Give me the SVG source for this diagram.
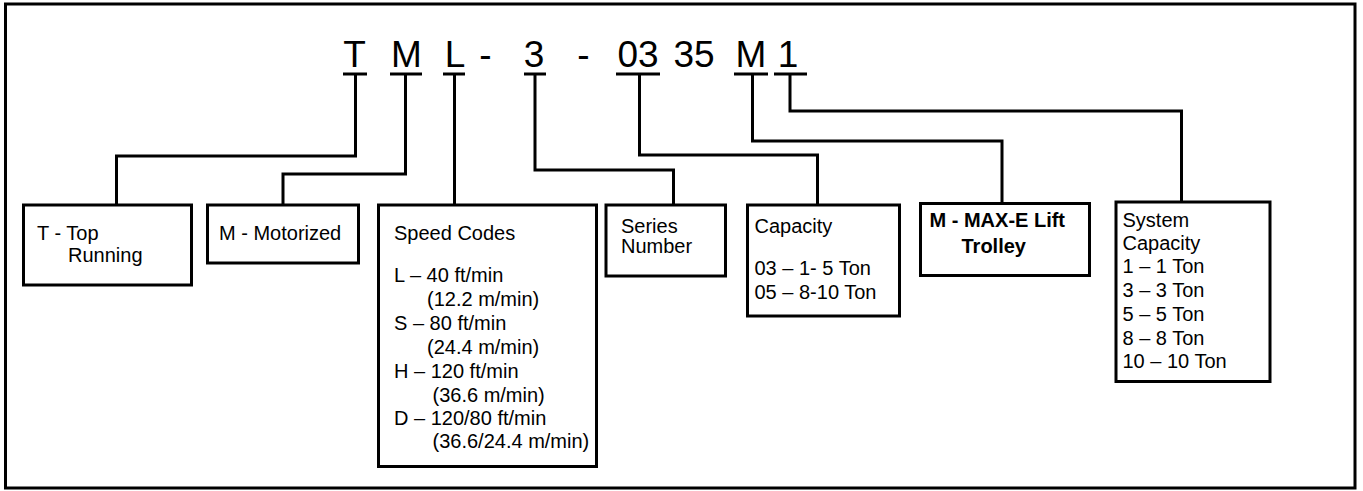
<svg xmlns="http://www.w3.org/2000/svg" width="1363" height="491" viewBox="0 0 1363 491">
<style>
text{font-family:"Liberation Sans",Arial,sans-serif;fill:#000}
.code{font-size:37px;text-anchor:middle}
.t{font-size:20px}
.b{font-size:20px;font-weight:bold}
.box{fill:#fff;stroke:#000;stroke-width:3}
.ln{fill:none;stroke:#000;stroke-width:3;stroke-linejoin:miter}
.ul{stroke:#000;stroke-width:3}
</style>
<rect x="5.5" y="4" width="1349.5" height="484" fill="#fff" stroke="#000" stroke-width="3"/>
<g id="code">
<text class="code" x="354.5" y="67">T</text>
<text class="code" x="406.5" y="67">M</text>
<text class="code" x="455" y="67">L</text>
<text class="code" x="485.5" y="67">-</text>
<text class="code" x="534" y="67">3</text>
<text class="code" x="583.5" y="67">-</text>
<text class="code" x="638" y="67">03</text>
<text class="code" x="694" y="67">35</text>
<text class="code" x="751" y="67">M</text>
<text class="code" x="788" y="67">1</text>
<line class="ul" x1="343" y1="74" x2="367" y2="74"/>
<line class="ul" x1="390" y1="74" x2="422" y2="74"/>
<line class="ul" x1="443" y1="74" x2="465" y2="74"/>
<line class="ul" x1="524" y1="74" x2="546" y2="74"/>
<line class="ul" x1="616" y1="74" x2="660" y2="74"/>
<line class="ul" x1="734" y1="74" x2="768" y2="74"/>
<line class="ul" x1="774" y1="74" x2="807" y2="74"/>
</g>
<g id="connectors">
<polyline class="ln" points="355.5,74 355.5,156 116.5,156 116.5,205"/>
<polyline class="ln" points="405.5,74 405.5,174 283,174 283,205"/>
<polyline class="ln" points="454.5,74 454.5,205"/>
<polyline class="ln" points="535,74 535,170 673.5,170 673.5,205"/>
<polyline class="ln" points="639.5,74 639.5,155 817.5,155 817.5,205"/>
<polyline class="ln" points="752.5,74 752.5,141 1002,141 1002,203"/>
<polyline class="ln" points="790,74 790,111 1181.5,111 1181.5,202"/>
</g>
<g id="node-T">
<rect class="box" x="23.5" y="205" width="168" height="80"/>
<text class="t" x="37" y="239.5">T - Top</text>
<text class="t" x="68" y="261.7">Running</text>
</g>
<g id="node-M">
<rect class="box" x="207.5" y="205" width="151" height="58"/>
<text class="t" x="219" y="239.5">M - Motorized</text>
</g>
<g id="node-speed">
<rect class="box" x="378.5" y="205" width="218" height="261.5"/>
<text class="t" x="394" y="239.5">Speed Codes</text>
<text class="t" x="394" y="281.7">L – 40 ft/min</text>
<text class="t" x="427" y="306">(12.2 m/min)</text>
<text class="t" x="394" y="330">S – 80 ft/min</text>
<text class="t" x="427" y="353.5">(24.4 m/min)</text>
<text class="t" x="394" y="378">H – 120 ft/min</text>
<text class="t" x="432.5" y="401.7">(36.6 m/min)</text>
<text class="t" x="394" y="425">D – 120/80 ft/min</text>
<text class="t" x="432.5" y="448.3">(36.6/24.4 m/min)</text>
</g>
<g id="node-series">
<rect class="box" x="606" y="205" width="119.5" height="71"/>
<text class="t" x="621" y="232.7">Series</text>
<text class="t" x="621" y="252.7">Number</text>
</g>
<g id="node-capacity">
<rect class="box" x="747.5" y="205" width="152" height="111"/>
<text class="t" x="754.5" y="233.3">Capacity</text>
<text class="t" x="754.5" y="275">03 – 1- 5 Ton</text>
<text class="t" x="754.5" y="299.3">05 – 8-10 Ton</text>
</g>
<g id="node-maxe">
<rect class="box" x="920.5" y="203.5" width="169" height="72"/>
<text class="b" x="929.5" y="226.7">M - MAX-E Lift</text>
<text class="b" x="961.5" y="253.3">Trolley</text>
</g>
<g id="node-system">
<rect class="box" x="1116" y="202" width="154" height="179.5"/>
<text class="t" x="1122.5" y="226.7">System</text>
<text class="t" x="1122.5" y="250">Capacity</text>
<text class="t" x="1122.5" y="273.3">1 – 1 Ton</text>
<text class="t" x="1122.5" y="296.7">3 – 3 Ton</text>
<text class="t" x="1122.5" y="320.7">5 – 5 Ton</text>
<text class="t" x="1122.5" y="345">8 – 8 Ton</text>
<text class="t" x="1122.5" y="367.7">10 – 10 Ton</text>
</g>
</svg>
